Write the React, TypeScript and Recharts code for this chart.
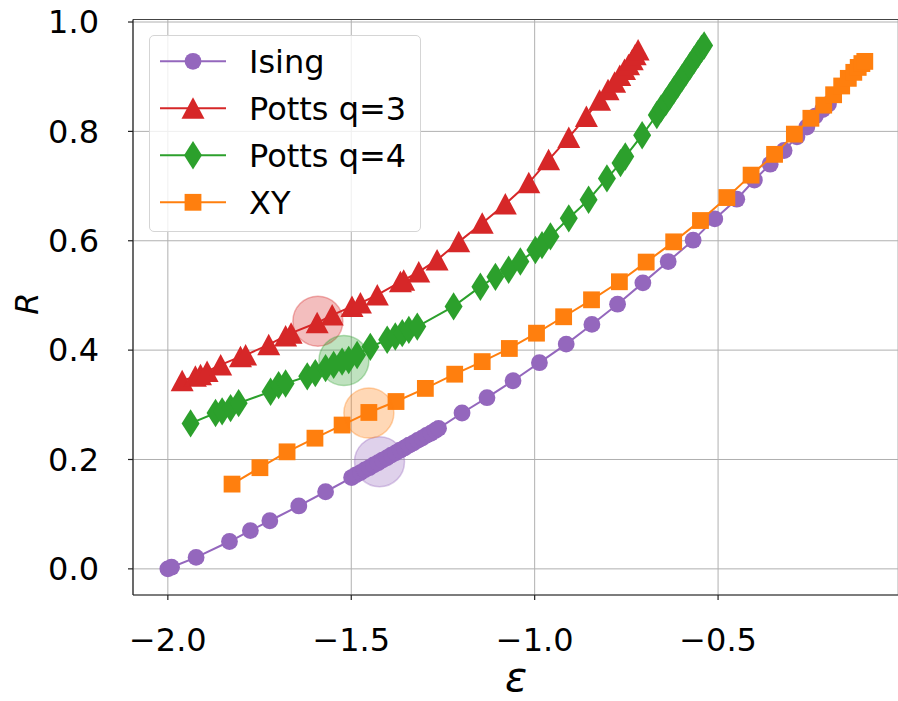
import React from "react";
import {
  ScatterChart,
  Scatter,
  XAxis,
  YAxis,
  CartesianGrid,
  Legend,
  ReferenceLine,
  Label,
} from "recharts";

// ---------- data ----------
const isingX = [
  -2.0, -1.99, -1.923, -1.832, -1.775, -1.722, -1.643, -1.57, -1.499,
  -1.487, -1.475, -1.463, -1.451, -1.439, -1.427, -1.415, -1.403, -1.391,
  -1.379, -1.367, -1.355, -1.343, -1.331, -1.319, -1.307, -1.295, -1.283,
  -1.271, -1.262, -1.198, -1.13, -1.059, -0.987, -0.914, -0.844, -0.774,
  -0.705, -0.636, -0.568, -0.509, -0.449, -0.401, -0.358, -0.32, -0.285,
  -0.258, -0.235, -0.215, -0.199,
];
const isingY = [
  0.0, 0.003, 0.021, 0.05, 0.07, 0.088, 0.115, 0.141, 0.167,
  0.172, 0.176, 0.181, 0.185, 0.19, 0.194, 0.199, 0.203, 0.208,
  0.212, 0.217, 0.221, 0.226, 0.23, 0.235, 0.239, 0.244, 0.248,
  0.253, 0.257, 0.285, 0.313, 0.344, 0.377, 0.411, 0.447, 0.484,
  0.523, 0.562, 0.601, 0.64, 0.676, 0.711, 0.74, 0.765, 0.79,
  0.808, 0.828, 0.84, 0.85,
];

const potts3X = [
  -1.961, -1.925, -1.911, -1.893, -1.856, -1.802, -1.788, -1.725, -1.679,
  -1.664, -1.593, -1.552, -1.498, -1.475, -1.429, -1.366, -1.357, -1.316,
  -1.266, -1.207, -1.143, -1.08, -1.016, -0.962, -0.907, -0.859, -0.823,
  -0.8, -0.782, -0.768, -0.755, -0.744, -0.734, -0.726, -0.718,
];
const potts3Y = [
  0.344, 0.352, 0.355, 0.361, 0.373, 0.388, 0.391, 0.41, 0.426,
  0.431, 0.45, 0.464, 0.48, 0.486, 0.501, 0.525, 0.528, 0.543,
  0.565, 0.598, 0.632, 0.667, 0.706, 0.748, 0.789, 0.827, 0.857,
  0.876, 0.89, 0.902, 0.913, 0.922, 0.931, 0.94, 0.949,
];

const potts4X = [
  -1.938, -1.87, -1.852, -1.829, -1.807, -1.72, -1.698, -1.679, -1.62,
  -1.598, -1.57, -1.548, -1.525, -1.507, -1.484, -1.448, -1.402, -1.38,
  -1.361, -1.343, -1.32, -1.221, -1.148, -1.107, -1.071, -1.039, -0.998,
  -0.98, -0.957, -0.907, -0.853, -0.803, -0.766, -0.753, -0.707, -0.667,
  -0.655, -0.643, -0.632, -0.621, -0.61, -0.599, -0.588, -0.577, -0.566,
  -0.555, -0.545, -0.538,
];
const potts4Y = [
  0.266, 0.285, 0.288, 0.294, 0.303, 0.324, 0.336, 0.339, 0.352,
  0.358, 0.367, 0.373, 0.379, 0.382, 0.391, 0.406, 0.419, 0.425,
  0.431, 0.437, 0.443, 0.48, 0.516, 0.534, 0.547, 0.562, 0.583,
  0.592, 0.608, 0.641, 0.675, 0.714, 0.742, 0.754, 0.793, 0.83,
  0.842, 0.853, 0.864, 0.875, 0.886, 0.897, 0.908, 0.919, 0.93,
  0.941, 0.951, 0.957,
];

const xyX = [
  -1.825, -1.749, -1.675, -1.599, -1.525, -1.452, -1.378, -1.298, -1.218,
  -1.143, -1.069, -0.995, -0.921, -0.845, -0.769, -0.696, -0.621, -0.548,
  -0.476, -0.41, -0.346, -0.292, -0.247, -0.212, -0.185, -0.163, -0.145,
  -0.13, -0.118, -0.108, -0.1,
];
const xyY = [
  0.155, 0.185, 0.214, 0.239, 0.263, 0.286, 0.306, 0.33, 0.356,
  0.379, 0.403, 0.431, 0.461, 0.492, 0.525, 0.561, 0.598, 0.637,
  0.679, 0.72, 0.758, 0.795, 0.824, 0.848, 0.867, 0.883, 0.897,
  0.908, 0.917, 0.924, 0.928,
];

// highlighted points (one per model)
const highlightX = [-1.423, -1.591, -1.52, -1.452];
const highlightY = [0.196, 0.453, 0.381, 0.285];

const xTicks = [-2.0, -1.5, -1.0, -0.5];
const yTicks = [0.0, 0.2, 0.4, 0.6, 0.8, 1.0];

const seriesNames = ["Ising", "Potts q=3", "Potts q=4", "XY"];
const seriesColors = ["#9467bd", "#d62728", "#2ca02c", "#ff7f0e"];
const seriesMarkers = ["circle", "triangle", "diamond", "square"];

const X_DOMAIN: [number, number] = [-2.095, -0.0095];
const Y_DOMAIN: [number, number] = [-0.0478, 1.0046];

const FONT = "'DejaVu Sans', sans-serif";

const zip = (xs: number[], ys: number[]) => xs.map((x, i) => ({ x, y: ys[i] }));
const seriesData = [
  zip(isingX, isingY),
  zip(potts3X, potts3Y),
  zip(potts4X, potts4Y),
  zip(xyX, xyY),
];

// ---------- markers ----------
function drawMarker(kind: string, cx: number, cy: number, color: string) {
  switch (kind) {
    case "circle":
      return <circle cx={cx} cy={cy} r={8.4} fill={color} />;
    case "triangle":
      return (
        <polygon
          points={`${cx},${cy - 11} ${cx - 11.5},${cy + 10.5} ${cx + 11.5},${cy + 10.5}`}
          fill={color}
        />
      );
    case "diamond":
      return (
        <polygon
          points={`${cx},${cy - 14.2} ${cx + 9},${cy} ${cx},${cy + 14.2} ${cx - 9},${cy}`}
          fill={color}
        />
      );
    default:
      return <rect x={cx - 8.4} y={cy - 8.4} width={16.8} height={16.8} fill={color} />;
  }
}

const makeShape = (kind: string, color: string) => (props: any) => {
  const { cx, cy } = props;
  if (cx == null || cy == null) return <g />;
  return drawMarker(kind, cx, cy, color);
};

const makeHalo = (color: string) => (props: any) => {
  const { cx, cy } = props;
  if (cx == null || cy == null) return <g />;
  return (
    <circle
      cx={cx}
      cy={cy}
      r={25}
      fill={color}
      fillOpacity={0.3}
      stroke={color}
      strokeOpacity={0.35}
      strokeWidth={1.5}
    />
  );
};

const fmt = (v: number) => v.toFixed(1).replace("-", "\u2212");

// ---------- legend ----------
const LegendBox = () => {
  const rowY = [26.3, 73.3, 120.3, 167.3];
  return (
    <div
      style={{
        width: 272,
        height: 197,
        border: "1px solid #d5d5d5",
        borderRadius: 5,
        background: "rgba(255,255,255,0.8)",
        boxSizing: "border-box",
      }}
    >
      <svg width={272} height={197} style={{ position: "absolute", left: 0, top: 0 }}>
        {seriesNames.map((name, i) => (
          <g key={name}>
            <line
              x1={11}
              x2={77}
              y1={rowY[i]}
              y2={rowY[i]}
              stroke={seriesColors[i]}
              strokeWidth={2}
            />
            {drawMarker(seriesMarkers[i], 44, rowY[i], seriesColors[i])}
            <text
              x={100}
              y={rowY[i] + 11.5}
              fontSize={32}
              fontFamily={FONT}
              fill="#000"
            >
              {name}
            </text>
          </g>
        ))}
      </svg>
    </div>
  );
};

export default function App() {
  return (
    <div style={{ position: "absolute", left: 0, top: 0, fontFamily: FONT }}>
      <ScatterChart
        width={898}
        height={701}
        margin={{ top: 19.5, right: 0, bottom: 0, left: 0 }}
      >
        <CartesianGrid stroke="#b0b0b0" strokeWidth={1} />
        <XAxis
          type="number"
          dataKey="x"
          domain={X_DOMAIN}
          allowDataOverflow
          ticks={xTicks}
          tickFormatter={fmt}
          height={106}
          tickSize={5}
          tickMargin={28}
          axisLine={{ stroke: "#222", strokeWidth: 1.2 }}
          tickLine={{ stroke: "#222", strokeWidth: 1.2 }}
          tick={{ fontSize: 32, fill: "#000", fontFamily: FONT }}
        >
          <Label
            content={() => (
              <text
                x={516}
                y={691}
                textAnchor="middle"
                fontSize={41}
                fontStyle="italic"
                fontFamily={FONT}
                fill="#000"
              >
                ε
              </text>
            )}
          />
        </XAxis>
        <YAxis
          type="number"
          dataKey="y"
          domain={Y_DOMAIN}
          allowDataOverflow
          ticks={yTicks}
          tickFormatter={fmt}
          width={133}
          tickSize={5}
          tickMargin={29}
          axisLine={{ stroke: "#222", strokeWidth: 1.2 }}
          tickLine={{ stroke: "#222", strokeWidth: 1.2 }}
          tick={{ fontSize: 32, fill: "#000", fontFamily: FONT }}
        >
          <Label
            content={() => (
              <text
                x={38}
                y={303.5}
                transform="rotate(-90 38 303.5)"
                textAnchor="middle"
                fontSize={32}
                fontStyle="italic"
                fontFamily={FONT}
                fill="#000"
              >
                R
              </text>
            )}
          />
        </YAxis>
        <ReferenceLine y={Y_DOMAIN[1]} stroke="#444" strokeWidth={1.2} />
        {seriesData.map((d, i) => (
          <Scatter
            key={seriesNames[i]}
            name={seriesNames[i]}
            data={d}
            line={{ stroke: seriesColors[i], strokeWidth: 2 }}
            lineType="joint"
            shape={makeShape(seriesMarkers[i], seriesColors[i])}
            isAnimationActive={false}
          />
        ))}
        {highlightX.map((hx, i) => (
          <Scatter
            key={"halo" + i}
            data={[{ x: hx, y: highlightY[i] }]}
            shape={makeHalo(seriesColors[i])}
            isAnimationActive={false}
            legendType="none"
          />
        ))}
        <Legend
          layout="vertical"
          align="center"
          verticalAlign="middle"
          content={() => <LegendBox />}
          wrapperStyle={{ position: "absolute", left: 149, top: 34.7, width: 272, height: 197 }}
        />
      </ScatterChart>
    </div>
  );
}
